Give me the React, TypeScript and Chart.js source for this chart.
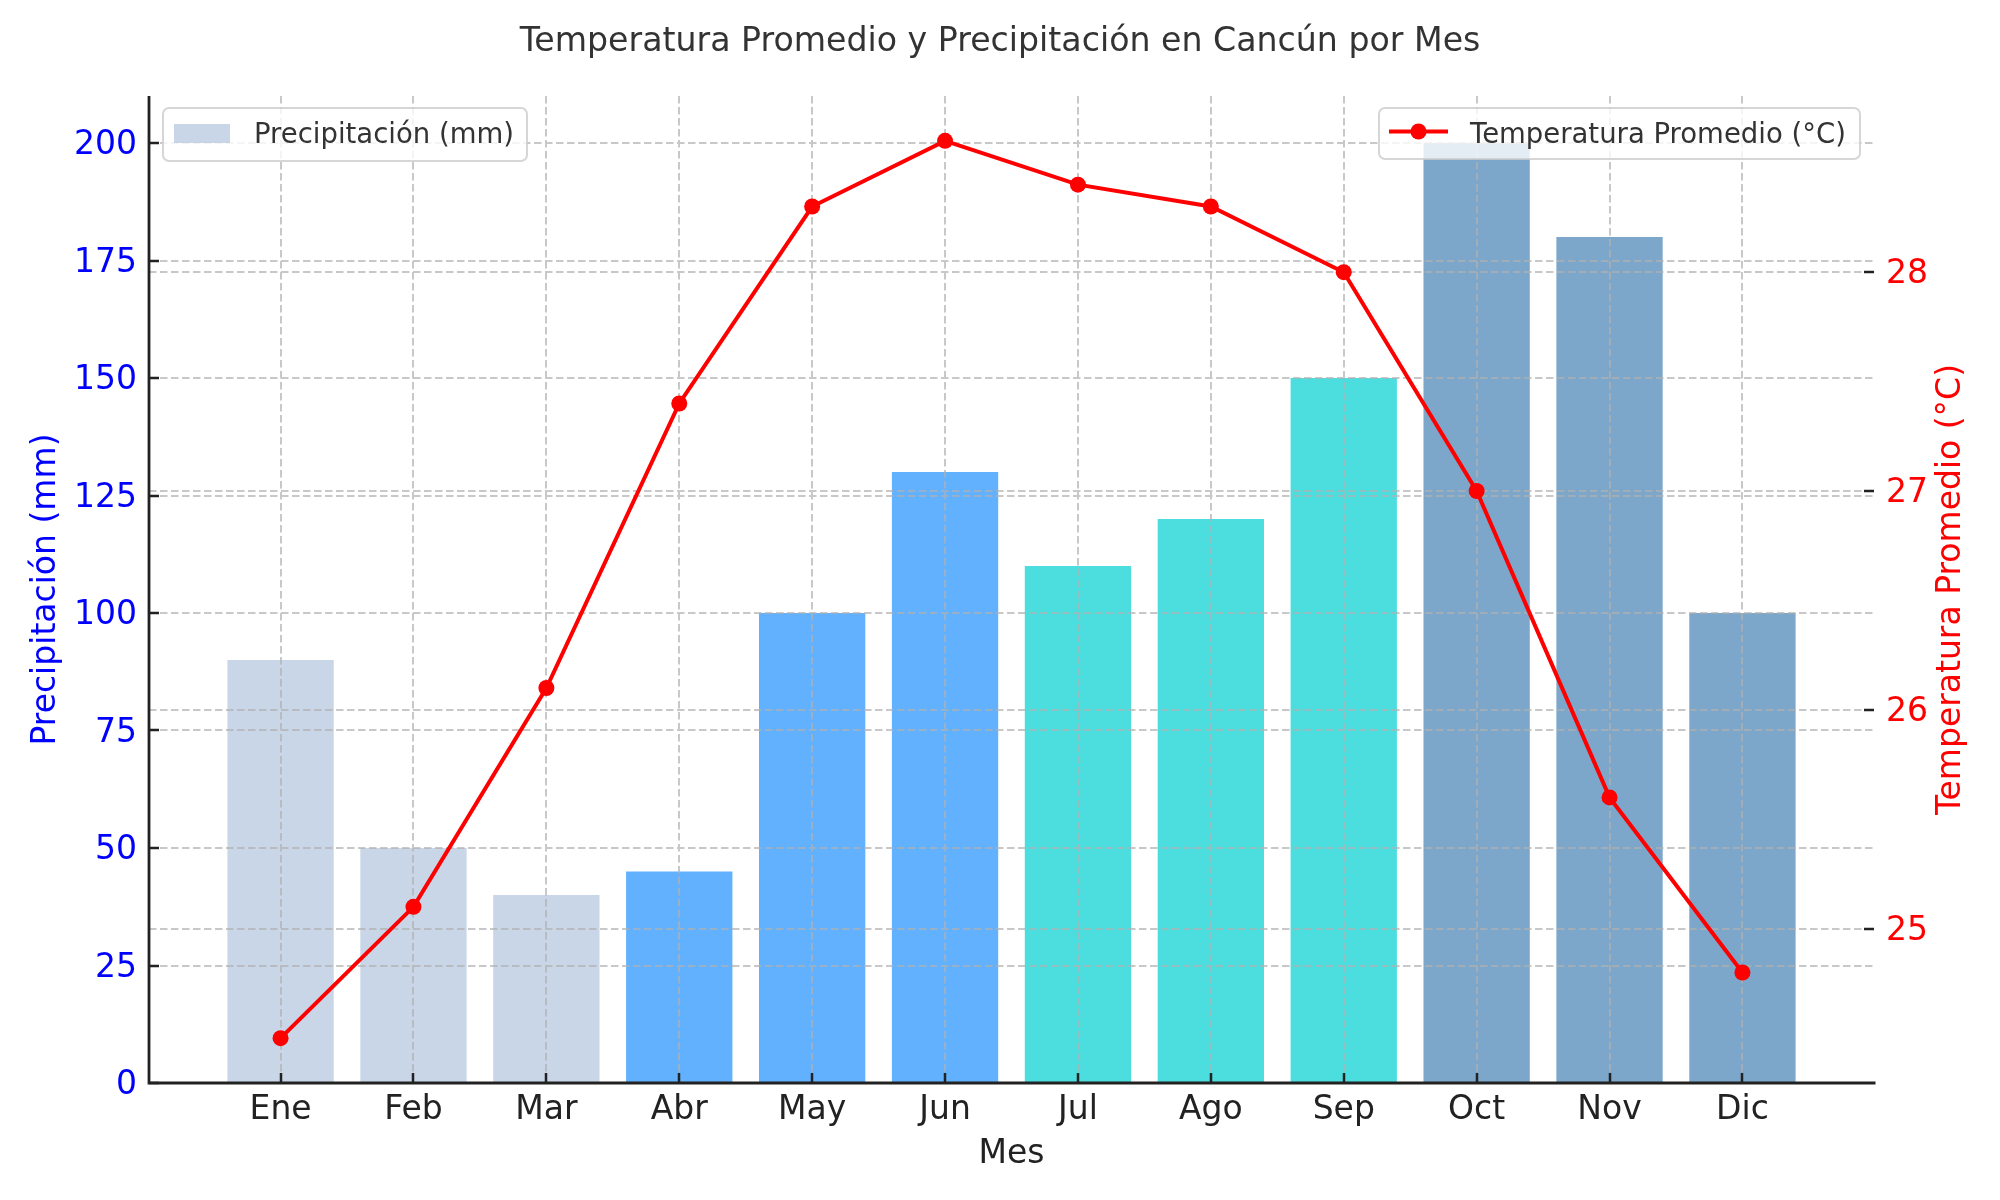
import { useEffect, useRef } from "react";
import { Chart, registerables } from "chart.js";

Chart.register(...registerables);

// Monthly climate data for Cancún
const months = ["Ene", "Feb", "Mar", "Abr", "May", "Jun", "Jul", "Ago", "Sep", "Oct", "Nov", "Dic"];
const precipitation = [90, 50, 40, 45, 100, 130, 110, 120, 150, 200, 180, 100];
const temperature = [24.5, 25.1, 26.1, 27.4, 28.3, 28.6, 28.4, 28.3, 28.0, 27.0, 25.6, 24.8];

// Bar colours grouped by season (each with 0.7 opacity)
const barColors = [
  "rgba(176,196,222,0.7)", "rgba(176,196,222,0.7)", "rgba(176,196,222,0.7)",
  "rgba(30,144,255,0.7)", "rgba(30,144,255,0.7)", "rgba(30,144,255,0.7)",
  "rgba(0,206,209,0.7)", "rgba(0,206,209,0.7)", "rgba(0,206,209,0.7)",
  "rgba(70,130,180,0.7)", "rgba(70,130,180,0.7)", "rgba(70,130,180,0.7)",
];

const precipTicks = [0, 25, 50, 75, 100, 125, 150, 175, 200];
const tempTicks = [25, 26, 27, 28];

const TITLE = "Temperatura Promedio y Precipitación en Cancún por Mes";
const X_LABEL = "Mes";
const PRECIP_LABEL = "Precipitación (mm)";
const TEMP_LABEL = "Temperatura Promedio (°C)";

const FONT = "'DejaVu Sans', sans-serif";
const BAR_WIDTH = 0.8;

// Axis ranges with a 5% margin around the data, like an autoscaled plot
const xPad = (months.length - 1 + BAR_WIDTH) * 0.05;
const xMin = -BAR_WIDTH / 2 - xPad;
const xMax = months.length - 1 + BAR_WIDTH / 2 + xPad;
const pMax = Math.max(...precipitation) * 1.05;
const tLo = Math.min(...temperature);
const tHi = Math.max(...temperature);
const tMin = tLo - (tHi - tLo) * 0.05;
const tMax = tHi + (tHi - tLo) * 0.05;

function drawLegendFrame(ctx: CanvasRenderingContext2D, x: number, y: number, w: number, h: number) {
  ctx.beginPath();
  ctx.roundRect(x, y, w, h, 6);
  ctx.fillStyle = "rgba(255,255,255,0.8)";
  ctx.fill();
  ctx.lineWidth = 2;
  ctx.strokeStyle = "rgba(204,204,204,0.8)";
  ctx.stroke();
}

const decorPlugin = {
  id: "decor",
  // grid, spines, ticks and the precipitation legend go above the bars but below the line
  afterDatasetDraw(chart: any, args: any) {
    if (args.index !== 0) return;
    const { ctx, chartArea: a, scales } = chart;
    const { x, y, y1 } = scales;
    ctx.save();

    ctx.strokeStyle = "rgba(176,176,176,0.7)";
    ctx.lineWidth = 2;
    ctx.setLineDash([7.5, 3.5]);
    ctx.beginPath();
    months.forEach((_, i) => {
      const px = Math.round(x.getPixelForValue(i));
      ctx.moveTo(px, a.top);
      ctx.lineTo(px, a.bottom);
    });
    precipTicks.forEach((v) => {
      const py = Math.round(y.getPixelForValue(v));
      ctx.moveTo(a.left, py);
      ctx.lineTo(a.right, py);
    });
    tempTicks.forEach((v) => {
      const py = Math.round(y1.getPixelForValue(v));
      ctx.moveTo(a.left, py);
      ctx.lineTo(a.right, py);
    });
    ctx.stroke();
    ctx.setLineDash([]);

    // inward tick marks
    ctx.strokeStyle = "#222";
    ctx.lineWidth = 2.5;
    ctx.beginPath();
    months.forEach((_, i) => {
      const px = Math.round(x.getPixelForValue(i));
      ctx.moveTo(px, a.bottom);
      ctx.lineTo(px, a.bottom - 10);
    });
    precipTicks.forEach((v) => {
      const py = Math.round(y.getPixelForValue(v));
      ctx.moveTo(a.left, py);
      ctx.lineTo(a.left + 10, py);
    });
    tempTicks.forEach((v) => {
      const py = Math.round(y1.getPixelForValue(v));
      ctx.moveTo(a.right - 10, py);
      ctx.lineTo(a.right, py);
    });
    ctx.stroke();

    // left and bottom spines
    ctx.lineWidth = 2.8;
    ctx.beginPath();
    ctx.moveTo(a.left, a.top);
    ctx.lineTo(a.left, a.bottom);
    ctx.lineTo(a.right + 1.5, a.bottom);
    ctx.stroke();

    // precipitation legend (upper left)
    const lx = a.left + 14;
    const ly = a.top + 12;
    drawLegendFrame(ctx, lx, ly, 364, 53);
    ctx.fillStyle = barColors[0];
    ctx.fillRect(lx + 11, ly + 16, 56, 19);
    ctx.font = `27.5px ${FONT}`;
    ctx.fillStyle = "#333";
    ctx.textAlign = "left";
    ctx.textBaseline = "alphabetic";
    ctx.fillText(PRECIP_LABEL, lx + 91, ly + 35);

    ctx.restore();
  },
  afterDatasetsDraw(chart: any) {
    const { ctx, chartArea: a } = chart;
    ctx.save();

    // temperature legend (upper right)
    const w = 481;
    const rx = a.right - 14 - w;
    const ry = a.top + 12;
    drawLegendFrame(ctx, rx, ry, w, 51);
    ctx.strokeStyle = "red";
    ctx.lineWidth = 4;
    ctx.beginPath();
    ctx.moveTo(rx + 10, ry + 23.5);
    ctx.lineTo(rx + 69, ry + 23.5);
    ctx.stroke();
    ctx.fillStyle = "red";
    ctx.beginPath();
    ctx.arc(rx + 39.5, ry + 23.5, 8, 0, Math.PI * 2);
    ctx.fill();
    ctx.font = `27.5px ${FONT}`;
    ctx.fillStyle = "#333";
    ctx.textAlign = "left";
    ctx.textBaseline = "alphabetic";
    ctx.fillText(TEMP_LABEL, rx + 91, ry + 34.5);

    // title and axis titles
    ctx.font = `33.2px ${FONT}`;
    ctx.textAlign = "center";
    ctx.fillStyle = "#333";
    ctx.fillText(TITLE, chart.width / 2, 51);

    ctx.font = `33px ${FONT}`;
    ctx.fillStyle = "#222";
    ctx.fillText(X_LABEL, (a.left + a.right) / 2, 1163);

    const midY = (a.top + a.bottom) / 2;
    ctx.save();
    ctx.translate(55, midY);
    ctx.rotate(-Math.PI / 2);
    ctx.fillStyle = "blue";
    ctx.fillText(PRECIP_LABEL, 0, 0);
    ctx.restore();

    ctx.save();
    ctx.translate(1960, midY);
    ctx.rotate(-Math.PI / 2);
    ctx.fillStyle = "red";
    ctx.fillText(TEMP_LABEL, 0, 0);
    ctx.restore();

    ctx.restore();
  },
};

export default function App() {
  const canvasRef = useRef<HTMLCanvasElement | null>(null);

  useEffect(() => {
    const canvas = canvasRef.current;
    if (!canvas) return;
    const tickFont = { family: FONT, size: 33 };

    const chart = new Chart(canvas, {
      type: "bar",
      data: {
        datasets: [
          {
            type: "bar",
            label: PRECIP_LABEL,
            data: precipitation.map((v, i) => ({ x: i, y: v })),
            backgroundColor: barColors,
            borderWidth: 0,
            barPercentage: BAR_WIDTH,
            categoryPercentage: 1,
            xAxisID: "x",
            yAxisID: "y",
            order: 2,
          },
          {
            type: "line",
            label: TEMP_LABEL,
            data: temperature.map((v, i) => ({ x: i, y: v })),
            borderColor: "red",
            backgroundColor: "red",
            borderWidth: 4,
            pointRadius: 8,
            pointBorderWidth: 0,
            pointBackgroundColor: "red",
            tension: 0,
            fill: false,
            xAxisID: "x",
            yAxisID: "y1",
            order: 1,
          },
        ],
      } as any,
      options: {
        responsive: false,
        devicePixelRatio: 1,
        animation: false,
        layout: { padding: { top: 96, left: 0, right: 0, bottom: 0 } },
        plugins: {
          legend: { display: false },
          tooltip: { enabled: false },
          title: { display: false },
        },
        scales: {
          x: {
            type: "linear",
            position: "bottom",
            offset: false,
            min: xMin,
            max: xMax,
            afterBuildTicks: (scale: any) => {
              scale.ticks = months.map((_, i) => ({ value: i }));
            },
            afterFit: (scale: any) => {
              scale.height = 117;
            },
            ticks: {
              autoSkip: false,
              maxRotation: 0,
              minRotation: 0,
              padding: 8,
              color: "#222",
              font: tickFont,
              callback: (value: any) => months[value as number] ?? "",
            },
            grid: { display: false, drawTicks: false, offset: false },
            border: { display: false },
          },
          y: {
            type: "linear",
            position: "left",
            min: 0,
            max: pMax,
            afterBuildTicks: (scale: any) => {
              scale.ticks = precipTicks.map((v) => ({ value: v }));
            },
            afterFit: (scale: any) => {
              scale.width = 149;
            },
            ticks: { padding: 12, labelOffset: 2.5, color: "blue", font: tickFont },
            grid: { display: false, drawTicks: false },
            border: { display: false },
          },
          y1: {
            type: "linear",
            position: "right",
            min: tMin,
            max: tMax,
            afterBuildTicks: (scale: any) => {
              scale.ticks = tempTicks.map((v) => ({ value: v }));
            },
            afterFit: (scale: any) => {
              scale.width = 126;
            },
            ticks: { padding: 12, labelOffset: 2.5, color: "red", font: tickFont },
            grid: { display: false, drawTicks: false },
            border: { display: false },
          },
        },
      } as any,
      plugins: [decorPlugin],
    });

    return () => chart.destroy();
  }, []);

  return (
    <div style={{ position: "fixed", left: 0, top: 0, width: 2000, height: 1200, background: "#fff" }}>
      <canvas ref={canvasRef} width={2000} height={1200} style={{ display: "block" }} />
    </div>
  );
}
